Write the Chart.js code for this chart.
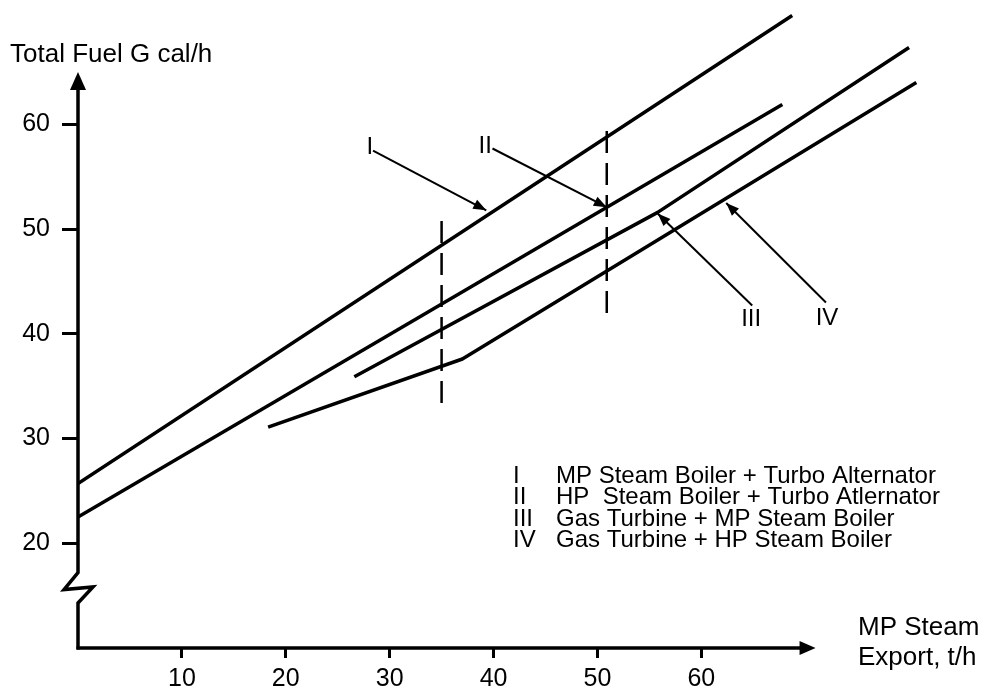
<!DOCTYPE html>
<html><head><meta charset="utf-8">
<script src="https://cdn.jsdelivr.net/npm/chart.js@4/dist/chart.umd.min.js"></script>
<style>html,body{margin:0;padding:0;background:#fff;}canvas{display:block;}</style>
</head><body>
<canvas id="c" width="987" height="692"></canvas>
<script>
// ---- data ----
const xTicks = [10, 20, 30, 40, 50, 60];
const yTicks = [20, 30, 40, 50, 60];

const lineI_x   = [0, 68.75];
const lineI_y   = [25.7, 70.4];
const lineII_x  = [0, 67.8];
const lineII_y  = [22.5, 61.9];
const lineIII_x = [26.6, 55.8, 80.0];
const lineIII_y = [35.9, 51.6, 67.35];
const lineIV_x  = [18.3, 37.0, 80.7];
const lineIV_y  = [31.1, 37.6, 64.0];

const guideA_x = [35.0, 35.0];
const guideA_y = [33.4, 51.6];
const guideB_x = [50.9, 50.9];
const guideB_y = [42.0, 60.1];

const calloutText  = ['I', 'II', 'III', 'IV'];
const calloutLabelX = [28.1, 39.2, 64.8, 72.1];
const calloutLabelY = [57.8, 57.9, 41.4, 41.5];
const calloutFromX = [28.4, 39.9, 64.9, 72.0];
const calloutFromY = [57.5, 57.7, 42.7, 43.0];
const calloutToX   = [39.3, 50.9, 55.8, 62.4];
const calloutToY   = [51.8, 52.1, 51.5, 52.5];

const legendNumerals = ['I', 'II', 'III', 'IV'];
const legendTexts = [
  'MP Steam Boiler + Turbo Alternator',
  'HP  Steam Boiler + Turbo Atlernator',
  'Gas Turbine + MP Steam Boiler',
  'Gas Turbine + HP Steam Boiler'
];
const yTitle = 'Total Fuel G cal/h';
const xTitle = ['MP Steam', 'Export, t/h'];

const xAxisEnd = 71.0;   // arrow tip of x axis (data units)
const yAxisEnd = 65.0;   // arrow tip of y axis
const yBreakLow = 14.3;  // axis break span
const yBreakHigh = 17.2;

// ---- helpers ----
const FONT = '"Liberation Sans", Arial, sans-serif';
const pts = (xs, ys) => xs.map((v, i) => ({x: v, y: ys[i]}));
const solid = (xs, ys) => ({data: pts(xs, ys), showLine: true, borderColor: '#000', borderWidth: 3.5,
  pointRadius: 0, tension: 0, fill: false, borderCapStyle: 'butt', borderJoinStyle: 'round'});
const dashed = (xs, ys) => ({data: pts(xs, ys), showLine: true, borderColor: '#000', borderWidth: 2.5,
  borderDash: [22, 10], pointRadius: 0, fill: false});

function arrowHead(ctx, x1, y1, x2, y2, len, half) {
  const a = Math.atan2(y2 - y1, x2 - x1);
  ctx.beginPath();
  ctx.moveTo(x2, y2);
  ctx.lineTo(x2 - len * Math.cos(a) + half * Math.sin(a), y2 - len * Math.sin(a) - half * Math.cos(a));
  ctx.lineTo(x2 - len * Math.cos(a) - half * Math.sin(a), y2 - len * Math.sin(a) + half * Math.cos(a));
  ctx.closePath();
  ctx.fill();
}

const overlay = {
  id: 'overlay',
  afterDraw(chart) {
    const {ctx} = chart;
    const sx = chart.scales.x, sy = chart.scales.y;
    const X = v => sx.getPixelForValue(v), Y = v => sy.getPixelForValue(v);
    ctx.save();
    ctx.strokeStyle = '#000'; ctx.fillStyle = '#000';
    ctx.lineCap = 'butt'; ctx.lineJoin = 'miter';

    // y axis with break and arrow
    const x0 = X(0), yb = Y(sy.min);
    const lo = Y(yBreakLow), hi = Y(yBreakHigh), yt = Y(yAxisEnd);
    ctx.lineWidth = 3.5;
    ctx.beginPath();
    ctx.moveTo(x0, yb + 1.5);
    ctx.lineTo(x0, lo);
    ctx.lineTo(x0 + 15, lo - 16);
    ctx.lineTo(x0 - 14, hi + 17);
    ctx.lineTo(x0, hi);
    ctx.lineTo(x0, yt + 12);
    ctx.stroke();
    arrowHead(ctx, x0, yt + 30, x0, yt, 18, 8);

    // x axis with arrow
    const xt = X(xAxisEnd);
    ctx.beginPath();
    ctx.moveTo(x0 - 1.5, yb);
    ctx.lineTo(xt - 10, yb);
    ctx.stroke();
    arrowHead(ctx, xt - 30, yb, xt, yb, 16, 7);

    // callout arrows
    ctx.lineWidth = 2;
    for (let i = 0; i < calloutText.length; i++) {
      const fx = X(calloutFromX[i]), fy = Y(calloutFromY[i]);
      const tx = X(calloutToX[i]), ty = Y(calloutToY[i]);
      ctx.beginPath(); ctx.moveTo(fx, fy); ctx.lineTo(tx, ty); ctx.stroke();
      arrowHead(ctx, fx, fy, tx, ty, 13, 5);
    }

    // texts
    ctx.font = '24px ' + FONT;
    ctx.textAlign = 'center'; ctx.textBaseline = 'middle';
    for (let i = 0; i < calloutText.length; i++) {
      ctx.fillText(calloutText[i], X(calloutLabelX[i]), Y(calloutLabelY[i]));
    }
    ctx.textAlign = 'left'; ctx.textBaseline = 'alphabetic';
    for (let i = 0; i < legendTexts.length; i++) {
      const by = 483 + i * 21.3;
      ctx.fillText(legendNumerals[i], 513, by);
      ctx.fillText(legendTexts[i], 556, by);
    }
    ctx.font = '26px ' + FONT;
    ctx.fillText(yTitle, 10, 62);
    ctx.fillText(xTitle[0], 858, 635);
    ctx.fillText(xTitle[1], 858, 665);
    ctx.restore();
  }
};

new Chart(document.getElementById('c'), {
  type: 'scatter',
  data: {
    datasets: [
      solid(lineI_x, lineI_y),
      solid(lineII_x, lineII_y),
      solid(lineIII_x, lineIII_y),
      solid(lineIV_x, lineIV_y),
      dashed(guideA_x, guideA_y),
      dashed(guideB_x, guideB_y)
    ]
  },
  options: {
    responsive: false,
    animation: false,
    devicePixelRatio: 1,
    layout: {padding: {top: 4, right: 26, left: 0, bottom: 0}},
    plugins: {legend: {display: false}, tooltip: {enabled: false}, title: {display: false}},
    scales: {
      x: {
        type: 'linear', min: 0, max: 85,
        afterBuildTicks: s => { s.ticks = xTicks.map(v => ({value: v})); },
        afterFit: s => { s.height = 44; s.paddingLeft = 0; s.paddingRight = 0; s.paddingTop = 0; s.paddingBottom = 0; },
        grid: {display: true, drawOnChartArea: false, drawTicks: true, tickLength: 10, color: '#000', lineWidth: 3},
        border: {display: false},
        ticks: {color: '#000', font: {family: FONT, size: 25, lineHeight: 1}, padding: 9, maxRotation: 0, autoSkip: false}
      },
      y: {
        type: 'linear', min: 10, max: 71.5,
        afterBuildTicks: s => { s.ticks = yTicks.map(v => ({value: v})); },
        afterFit: s => { s.width = 78; s.paddingLeft = 0; s.paddingRight = 0; s.paddingTop = 0; s.paddingBottom = 0; },
        grid: {display: true, drawOnChartArea: false, drawTicks: true, tickLength: 16, color: '#000', lineWidth: 3},
        border: {display: false},
        ticks: {color: '#000', font: {family: FONT, size: 25, lineHeight: 1}, padding: 12, autoSkip: false}
      }
    }
  },
  plugins: [overlay]
});
</script>
</body></html>
